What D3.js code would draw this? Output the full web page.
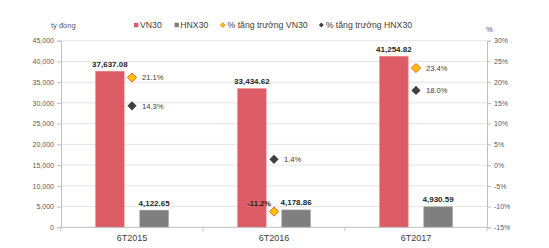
<!DOCTYPE html>
<html><head><meta charset="utf-8">
<script src="https://cdn.jsdelivr.net/npm/d3@7"></script>
<style>body{margin:0;background:#fff}svg{display:block;font-family:"Liberation Sans",Arial,sans-serif}</style>
</head><body><svg id="c" width="549" height="248"></svg>
<script>
const categories = ["6T2015", "6T2016", "6T2017"];
const seriesNames = ["VN30", "HNX30"];
const vn30 = [37637.08, 33434.62, 41254.82];
const hnx30 = [4122.65, 4178.86, 4930.59];
const growthVN = [21.1, -11.2, 23.4];
const growthHNX = [14.3, 1.4, 18.0];
const leftTicks = [0, 5000, 10000, 15000, 20000, 25000, 30000, 35000, 40000, 45000];
const rightTicks = [-15, -10, -5, 0, 5, 10, 15, 20, 25, 30];

const svg = d3.select("#c");
const L = 61, R = 487, T = 40.7, B = 227.3;
const x0 = d3.scaleBand().domain(categories).range([L, R]).padding(0);
const x1 = d3.scaleBand().domain(seriesNames).range([0, x0.bandwidth()]).paddingInner(0.355).paddingOuter(0.784);
const yL = d3.scaleLinear().domain([0, 45000]).range([B, T]);
const yR = d3.scaleLinear().domain([-15, 30]).range([B, T]);
const colors = {VN30: "#dc5c65", HNX30: "#7f7f7f"};
const fmt = d3.format(",.2f");

// gridlines
svg.append("g").selectAll("line").data(leftTicks.slice(1)).join("line")
  .attr("x1", L).attr("x2", R).attr("y1", d => yL(d)).attr("y2", d => yL(d))
  .attr("stroke", "#e4e4e4").attr("stroke-width", 1);

// bars
const data = categories.map((c, i) => ({c, VN30: vn30[i], HNX30: hnx30[i], gv: growthVN[i], gh: growthHNX[i]}));
const g = svg.append("g");
data.forEach(d => {
  seriesNames.forEach(s => {
    g.append("rect").attr("x", x0(d.c) + x1(s)).attr("width", x1.bandwidth())
      .attr("y", yL(d[s])).attr("height", B - yL(d[s]))
      .attr("fill", colors[s]).attr("stroke", s === "VN30" ? "#e8858c" : "#9a9a9a").attr("stroke-width", 0.6);
    g.append("text").attr("x", x0(d.c) + x1(s) + x1.bandwidth() / 2).attr("y", yL(d[s]) - 4.5)
      .attr("text-anchor", "middle").attr("font-size", 8).attr("font-weight", "bold").attr("fill", "#262626")
      .text(fmt(d[s]));
  });
});

// axes
const axisColor = "#bfbfbf";
const axL = svg.append("g").attr("transform", `translate(${L},0)`).call(d3.axisLeft(yL).tickValues(leftTicks).tickSize(4).tickPadding(3).tickFormat(d3.format(",")));
const axR = svg.append("g").attr("transform", `translate(${R},0)`).call(d3.axisRight(yR).tickValues(rightTicks).tickSize(4).tickPadding(3).tickFormat(d => d + "%"));
[axL, axR].forEach(a => {
  a.select(".domain").attr("stroke", axisColor);
  a.selectAll(".tick line").attr("stroke", axisColor);
  a.selectAll(".tick text").attr("font-size", 7).attr("fill", "#595959").attr("font-family", "Liberation Sans, Arial, sans-serif");
});
// bottom axis
svg.append("line").attr("x1", L).attr("x2", R).attr("y1", B).attr("y2", B).attr("stroke", axisColor);
const bounds = categories.map(c => x0(c)).concat([R]);
svg.append("g").selectAll("line").data(bounds).join("line")
  .attr("x1", d => d).attr("x2", d => d).attr("y1", B).attr("y2", B + 4).attr("stroke", axisColor);
svg.append("g").selectAll("text").data(categories).join("text")
  .attr("x", d => x0(d) + x0.bandwidth() / 2).attr("y", 241).attr("text-anchor", "middle")
  .attr("font-size", 9).attr("fill", "#404040").text(d => d);

// diamonds
function diamond(r) { return `M0,${-r}L${r},0L0,${r}L${-r},0Z`; }
const gm = svg.append("g");
data.forEach(d => {
  const cx = x0(d.c) + x0.bandwidth() / 2;
  gm.append("path").attr("d", diamond(4.6)).attr("transform", `translate(${cx},${yR(d.gh)})`).attr("fill", "#3f3f3f");
  gm.append("path").attr("d", diamond(4.6)).attr("transform", `translate(${cx},${yR(d.gv)})`).attr("fill", "#ffc000").attr("stroke", "#f26522").attr("stroke-width", 1);
  gm.append("text").attr("x", cx + 10).attr("y", yR(d.gh) + 2.8).attr("font-size", 7.6).attr("fill", "#404040").text(d.gh.toFixed(1) + "%");
  if (d.gv >= 0) {
    gm.append("text").attr("x", cx + 10).attr("y", yR(d.gv) + 2.8).attr("font-size", 7.6).attr("fill", "#404040").text(d.gv.toFixed(1) + "%");
  } else {
    gm.append("text").attr("x", cx - 3).attr("y", yR(d.gv) - 5.5).attr("text-anchor", "end").attr("font-size", 7.6).attr("font-weight", "bold").attr("fill", "#262626").text(d.gv.toFixed(1) + "%");
  }
});

// titles & legend
svg.append("text").attr("x", 51).attr("y", 27.5).attr("font-size", 7.5).attr("fill", "#595959").text("tỷ đồng");
svg.append("text").attr("x", 486).attr("y", 31.5).attr("font-size", 7.5).attr("fill", "#595959").text("%");
const lg = svg.append("g");
const ly = 25;
lg.append("rect").attr("x", 134).attr("y", ly - 2.2).attr("width", 4.4).attr("height", 4.4).attr("fill", colors.VN30);
lg.append("text").attr("x", 140).attr("y", ly + 3.1).attr("font-size", 8.7).attr("fill", "#404040").text("VN30");
lg.append("rect").attr("x", 174.5).attr("y", ly - 2.2).attr("width", 4.4).attr("height", 4.4).attr("fill", colors.HNX30);
lg.append("text").attr("x", 180.3).attr("y", ly + 3.1).attr("font-size", 8.7).attr("fill", "#404040").text("HNX30");
lg.append("path").attr("d", diamond(2.4)).attr("transform", `translate(222.7,${ly})`).attr("fill", "#ffc000").attr("stroke", "#f26522").attr("stroke-width", 0.6);
lg.append("text").attr("x", 227.5).attr("y", ly + 3.1).attr("font-size", 8.7).attr("fill", "#404040").text("% tăng trưởng VN30");
lg.append("path").attr("d", diamond(2.4)).attr("transform", `translate(321.3,${ly})`).attr("fill", "#3f3f3f");
lg.append("text").attr("x", 325.7).attr("y", ly + 3.1).attr("font-size", 8.7).attr("fill", "#404040").text("% tăng trưởng HNX30");
</script></body></html>
